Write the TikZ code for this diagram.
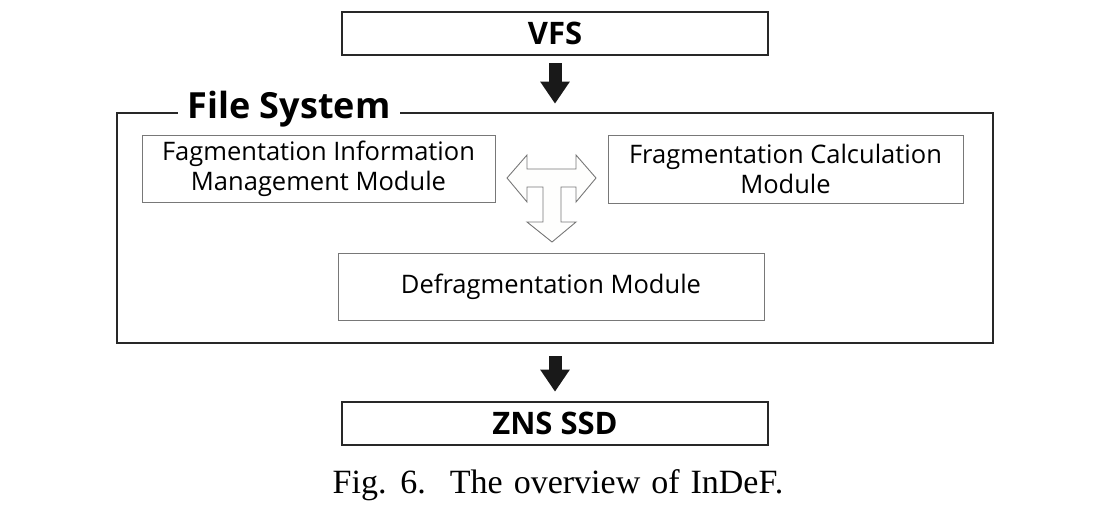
\documentclass[tikz,border=0pt]{standalone}
\usepackage{fontspec}
\setmainfont{Liberation Serif}
\newfontfamily\boxfont{Open Sans}
\usepackage{tikz}
\usetikzlibrary{arrows.meta, positioning, calc}
\definecolor{framegray}{RGB}{40, 40, 40}
\definecolor{modgray}{RGB}{120, 120, 120}
\definecolor{tfill}{RGB}{254, 254, 253}
\tikzset{
  layerbox/.style={rectangle, draw=framegray, line width=2.6pt, minimum width=426pt, minimum height=43pt, inner sep=0pt, font=\boxfont\bfseries\fontsize{31}{36}\selectfont},
  modbox/.style={rectangle, draw=modgray, line width=1pt, inner sep=0pt, align=center, font=\boxfont\fontsize{25.5}{30}\selectfont},
  blockarrow/.style={line width=13pt, black!90, -{Triangle[width=28pt, length=22pt]}}
}

\begin{document}
\begin{tikzpicture}[x=1pt, y=-1pt]
        \useasboundingbox (0,0) rectangle (1107,514);
        \node[layerbox] (vfs) at (555,33.5) {VFS};
        \node[rectangle, draw=framegray, line width=2.6pt, minimum width=876pt, minimum height=230pt, inner sep=0pt] (fs) at (555,228) {};
        \node[fill=white, inner xsep=10pt, inner ysep=0pt, font=\boxfont\bfseries\fontsize{36}{42}\selectfont] (fstitle) at (289,109) {File System};
        \node[modbox, minimum width=353pt, minimum height=67pt] (fim) at (318.5,169) {Fagmentation Information\\Management Module};
        \node[modbox, minimum width=355pt, minimum height=68pt] (fcm) at (785.5,169) {Fragmentation Calculation\\Module};
        \node[modbox, minimum width=426pt, minimum height=67pt] (dfm) at (551,286.5) {Defragmentation Module};
        \node[layerbox] (zns) at (555,423.5) {ZNS SSD};
        \node[font=\fontsize{34}{38}\selectfont] (cap) at (558,485) {\spaceskip=11pt\relax Fig. 6.\hspace{24pt}The overview of InDeF.};
        \draw[blockarrow, shorten <=7pt, shorten >=8pt] (vfs.south) -- (vfs.south |- fs.north);
        \draw[blockarrow, shorten <=12pt, shorten >=9pt] (fs.south -| zns.north) -- (zns.north);
        \draw[modgray, line width=0.9pt, fill=tfill, line join=miter]
          (507,178) -- (527,155) -- (527,169) -- (576,169) -- (576,155) -- (596,178)
          -- (576,202) -- (576,187) -- (561,187) -- (561,222) -- (576,222) -- (552,242)
          -- (527,222) -- (543,222) -- (543,187) -- (527,187) -- (527,202) -- cycle;
    \end{tikzpicture}
\end{document}
